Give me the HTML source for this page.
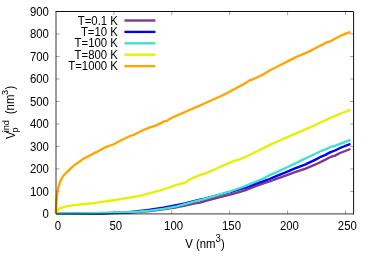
<!DOCTYPE html>
<html><head><meta charset="utf-8"><title>plot</title><style>html,body{margin:0;padding:0;background:#fff;}body{width:374px;height:262px;overflow:hidden;position:relative;}</style></head><body>
<svg width="374" height="262" viewBox="0 0 374 262" style="position:absolute;left:0;top:0;will-change:transform;font-family:'Liberation Sans',sans-serif;font-size:11.4px" fill="#000">
<rect width="374" height="262" fill="#fff"/>
<text transform="translate(48.90,218.00) scale(1,1.045)" text-anchor="end">0</text>
<text transform="translate(48.90,195.51) scale(1,1.045)" text-anchor="end">100</text>
<text transform="translate(48.90,173.02) scale(1,1.045)" text-anchor="end">200</text>
<text transform="translate(48.90,150.53) scale(1,1.045)" text-anchor="end">300</text>
<text transform="translate(48.90,128.04) scale(1,1.045)" text-anchor="end">400</text>
<text transform="translate(48.90,105.56) scale(1,1.045)" text-anchor="end">500</text>
<text transform="translate(48.90,83.07) scale(1,1.045)" text-anchor="end">600</text>
<text transform="translate(48.90,60.58) scale(1,1.045)" text-anchor="end">700</text>
<text transform="translate(48.90,38.09) scale(1,1.045)" text-anchor="end">800</text>
<text transform="translate(48.90,15.60) scale(1,1.045)" text-anchor="end">900</text>
<text transform="translate(57.80,230.30) scale(1,1.045)" text-anchor="middle">0</text>
<text transform="translate(115.70,230.30) scale(1,1.045)" text-anchor="middle">50</text>
<text transform="translate(173.60,230.30) scale(1,1.045)" text-anchor="middle">100</text>
<text transform="translate(231.50,230.30) scale(1,1.045)" text-anchor="middle">150</text>
<text transform="translate(289.40,230.30) scale(1,1.045)" text-anchor="middle">200</text>
<text transform="translate(347.30,230.30) scale(1,1.045)" text-anchor="middle">250</text>
<path d="M56.0,191.41h3.6M353.6,191.41h-3.6M56.0,168.92h3.6M353.6,168.92h-3.6M56.0,146.43h3.6M353.6,146.43h-3.6M56.0,123.94h3.6M353.6,123.94h-3.6M56.0,101.46h3.6M353.6,101.46h-3.6M56.0,78.97h3.6M353.6,78.97h-3.6M56.0,56.48h3.6M353.6,56.48h-3.6M56.0,33.99h3.6M353.6,33.99h-3.6M113.90,213.9v-3.6M113.90,11.5v3.6M171.80,213.9v-3.6M171.80,11.5v3.6M229.70,213.9v-3.6M229.70,11.5v3.6M287.60,213.9v-3.6M287.60,11.5v3.6M345.50,213.9v-3.6M345.50,11.5v3.6" stroke="#000" stroke-opacity="0.6" stroke-width="0.6" fill="none"/>
<text transform="translate(117.90,24.60) scale(1,1.045)" text-anchor="end">T=0.1 K</text>
<path d="M124.4,20.5H155.4" stroke="#7b3a84" stroke-width="2.35"/>
<text transform="translate(117.90,36.00) scale(1,1.045)" text-anchor="end">T=10 K</text>
<path d="M124.4,31.9H155.4" stroke="#0000ff" stroke-width="2.35"/>
<text transform="translate(117.90,47.40) scale(1,1.045)" text-anchor="end">T=100 K</text>
<path d="M124.4,43.3H155.4" stroke="#40e0d0" stroke-width="2.35"/>
<text transform="translate(117.90,58.80) scale(1,1.045)" text-anchor="end">T=800 K</text>
<path d="M124.4,54.7H155.4" stroke="#e8f000" stroke-width="2.35"/>
<text transform="translate(117.90,70.25) scale(1,1.045)" text-anchor="end">T=1000 K</text>
<path d="M124.4,66.15H155.4" stroke="#ffa500" stroke-width="2.35"/>
<polyline points="56.0,213.9 100.0,213.6 126.7,212.8 150.0,211.0 165.0,209.0 175.0,207.6 185.0,205.6 195.0,203.3 200.0,202.5 205.0,201.0 220.0,197.1 230.0,194.7 240.0,191.8 245.0,190.4 255.0,186.3 265.0,182.9 269.6,181.5 275.0,179.4 285.0,175.8 295.0,172.2 305.0,168.8 315.0,164.7 325.0,159.9 330.0,157.2 335.0,155.6 340.0,153.0 350.5,149.0" fill="none" stroke="#7b3a84" stroke-width="2.35" stroke-linejoin="round" stroke-linecap="butt"/>
<polyline points="56.0,213.8 80.0,213.6 100.0,213.3 126.7,212.4 140.0,210.9 150.0,209.7 163.4,207.6 175.0,205.4 185.0,203.3 195.0,200.8 200.0,199.7 205.0,198.7 220.0,194.6 230.0,192.0 240.0,189.0 245.0,187.9 255.0,184.2 265.0,180.7 269.6,179.0 275.0,176.7 285.0,172.7 295.0,168.4 305.0,164.6 315.0,159.9 320.0,157.2 325.0,155.1 330.0,152.4 335.0,150.5 340.0,148.0 350.5,143.9" fill="none" stroke="#0000ff" stroke-width="2.35" stroke-linejoin="round" stroke-linecap="butt"/>
<polyline points="56.0,213.6 80.0,213.3 100.0,212.9 126.7,212.2 140.0,211.5 150.0,210.6 163.4,208.8 176.7,206.4 185.0,204.2 195.0,201.4 200.0,200.1 205.0,198.9 220.0,194.4 230.0,191.5 240.0,188.0 245.0,186.1 255.0,182.0 265.0,177.8 269.6,175.1 275.0,172.8 285.0,168.3 295.0,163.6 305.0,158.6 315.0,154.0 320.0,151.5 325.0,149.6 330.0,147.2 335.0,145.8 340.0,143.9 350.5,139.9" fill="none" stroke="#40e0d0" stroke-width="2.35" stroke-linejoin="round" stroke-linecap="butt"/>
<polyline points="56.0,213.6 57.2,211.0 59.3,208.6 64.0,206.8 74.0,205.1 84.0,204.0 94.0,203.1 102.0,201.9 112.0,200.5 122.0,198.9 132.0,197.2 140.0,195.8 150.0,193.1 160.0,190.4 165.0,188.8 170.0,187.2 175.0,185.4 185.0,182.7 189.6,179.5 195.0,177.1 200.0,175.0 205.0,173.6 210.7,171.2 220.0,167.0 230.0,162.7 235.0,160.7 240.0,159.3 245.0,157.0 255.0,152.2 265.0,147.4 272.0,143.9 282.0,139.5 292.0,135.2 302.0,130.8 312.0,126.5 322.0,121.7 332.0,117.1 342.0,113.0 350.5,109.8" fill="none" stroke="#e8f000" stroke-width="2.35" stroke-linejoin="round" stroke-linecap="butt"/>
<polyline points="55.9,213.6 56.1,206.7 56.6,199.5 57.1,194.7 57.9,189.4 58.6,186.5 59.4,184.0 60.2,181.7 61.2,179.5 62.4,177.4 63.9,175.2 65.4,173.8 67.2,171.8 69.4,169.6 73.4,165.9 78.7,162.2 84.1,158.4 89.4,155.7 94.8,152.9 100.1,150.3 105.1,147.3 113.2,144.5 121.2,140.2 125.0,138.5 130.0,136.0 135.0,134.3 140.0,131.8 145.0,129.3 150.0,127.4 155.0,125.9 160.0,123.6 164.2,121.3 166.9,120.9 170.0,118.6 175.0,116.3 185.0,112.0 195.0,107.7 205.0,103.2 215.0,98.7 225.0,94.2 235.1,88.7 245.1,83.4 249.1,80.7 255.2,78.3 263.2,74.5 270.0,70.3 273.0,68.8 281.0,64.8 289.1,60.6 297.1,56.5 305.1,53.4 313.1,49.6 317.1,47.3 323.0,44.4 325.7,42.7 331.0,41.1 336.4,38.0 341.7,35.3 345.1,33.9 350.5,31.9" fill="none" stroke="#ffa500" stroke-width="2.35" stroke-linejoin="round" stroke-linecap="butt"/>
<path d="M56.0,11.5H353.6V213.9" fill="none" stroke="#000" stroke-width="0.95" stroke-linecap="square"/>
<path d="M56.0,11.5V213.9H353.6" fill="none" stroke="#000" stroke-opacity="0.82" stroke-width="0.95" stroke-linecap="butt"/>
<text transform="translate(185.20,247.60) scale(1,1.045)" text-anchor="start">V (nm<tspan dy="-4.9" font-size="9.58">3</tspan><tspan dy="4.9">)</tspan></text>
<text transform="translate(14.50,139.00) rotate(-90) scale(1,1.045)">V</text>
<text transform="translate(9.10,132.30) rotate(-90) scale(1,0.95)" font-size="9.20">ind</text>
<text transform="translate(18.40,132.50) rotate(-90) scale(1,0.95)" font-size="9.20">p</text>
<text transform="translate(14.40,114.20) rotate(-90) scale(1,1.045)">(nm</text>
<text transform="translate(8.00,95.00) rotate(-90) scale(1,0.95)" font-size="9.20">3</text>
<text transform="translate(14.40,89.60) rotate(-90) scale(1,1.045)">)</text>
</svg>
</body></html>
